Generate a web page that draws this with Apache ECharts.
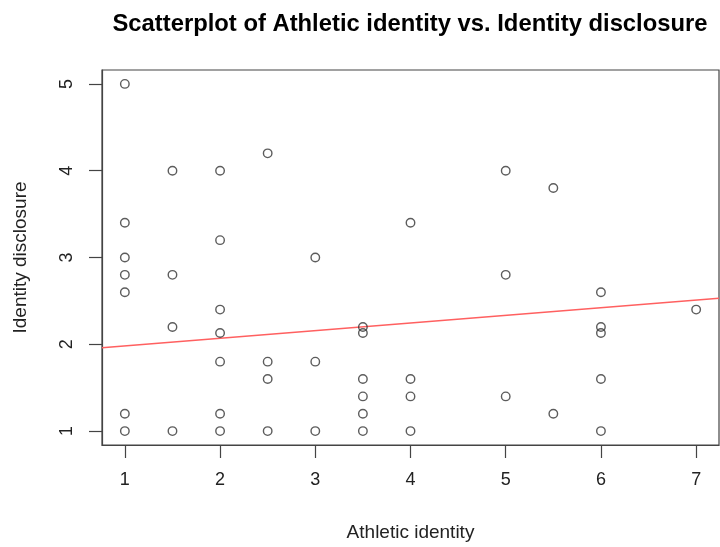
<!DOCTYPE html>
<html>
<head>
<meta charset="utf-8">
<script src="https://cdn.jsdelivr.net/npm/echarts@6/dist/echarts.min.js"></script>
<style>
  html, body { margin: 0; padding: 0; background: #fff; }
  #chart { width: 720px; height: 547px; }
</style>
</head>
<body>
<div id="chart"></div>
<script>
// Athletic identity score of each respondent
const athleticIdentity = [
  1, 1, 1, 1, 1, 1, 1,
  1.5, 1.5, 1.5, 1.5,
  2, 2, 2, 2, 2, 2, 2,
  2.5, 2.5, 2.5, 2.5,
  3, 3, 3,
  3.5, 3.5, 3.5, 3.5, 3.5, 3.5,
  4, 4, 4, 4,
  5, 5, 5,
  5.5, 5.5,
  6, 6, 6, 6, 6,
  7
];
// Identity disclosure score, same order
const identityDisclosure = [
  5.0, 3.4, 3.0, 2.8, 2.6, 1.2, 1.0,
  4.0, 2.8, 2.2, 1.0,
  4.0, 3.2, 2.4, 2.13, 1.8, 1.2, 1.0,
  4.2, 1.8, 1.6, 1.0,
  3.0, 1.8, 1.0,
  2.2, 2.13, 1.6, 1.4, 1.2, 1.0,
  3.4, 1.6, 1.4, 1.0,
  4.0, 2.8, 1.4,
  3.8, 1.2,
  2.6, 2.2, 2.13, 1.6, 1.0,
  2.4
];
// Fitted line coefficients
const fitIntercept = 1.893;
const fitSlope = 0.088;

// Tick labels
const xTicks = [1, 2, 3, 4, 5, 6, 7];
const yTicks = [1, 2, 3, 4, 5];

// Axis ranges padded by 4% on each side
const pad = (lo, hi) => [lo - 0.04 * (hi - lo), hi + 0.04 * (hi - lo)];
const [xMin, xMax] = pad(Math.min(...athleticIdentity), Math.max(...athleticIdentity));
const [yMin, yMax] = pad(Math.min(...identityDisclosure), Math.max(...identityDisclosure));

const points = athleticIdentity.map((x, i) => [x, identityDisclosure[i]]);
const fitLine = [xMin, xMax].map(x => [x, fitIntercept + fitSlope * x]);

const FONT = '"Liberation Sans", Arial, sans-serif';
const INK = '#222';

const chart = echarts.init(document.getElementById('chart'), null, { renderer: 'canvas' });
chart.setOption({
  animation: false,
  backgroundColor: '#fff',
  title: {
    text: 'Scatterplot of Athletic identity vs. Identity disclosure',
    left: 405,
    textAlign: 'center',
    top: 7,
    textStyle: { fontFamily: FONT, fontWeight: 'bold', fontSize: 23.8, color: '#000' }
  },
  grid: {
    left: 102, right: 1, top: 70, bottom: 102,
    containLabel: false,
    outerBoundsMode: 'none',
    show: true, borderColor: '#444', borderWidth: 1.2, backgroundColor: 'transparent'
  },
  xAxis: {
    type: 'value',
    min: xMin, max: xMax,
    name: 'Athletic identity',
    nameLocation: 'middle',
    nameGap: 78,
    nameTextStyle: { fontFamily: FONT, fontSize: 19, color: INK },
    splitLine: { show: false },
    axisLine: { show: true, lineStyle: { color: '#444', width: 1.2 } },
    axisTick: { show: true, inside: false, length: 13, customValues: xTicks, lineStyle: { color: '#444', width: 1.2 } },
    axisLabel: { customValues: xTicks, margin: 26, fontFamily: FONT, fontSize: 18, color: INK }
  },
  yAxis: {
    type: 'value',
    min: yMin, max: yMax,
    name: 'Identity disclosure',
    nameLocation: 'middle',
    nameGap: 72,
    nameRotate: 90,
    nameTextStyle: { fontFamily: FONT, fontSize: 19, color: INK },
    splitLine: { show: false },
    axisLine: { show: true, lineStyle: { color: '#444', width: 1.2 } },
    axisTick: { show: true, inside: false, length: 13, customValues: yTicks, lineStyle: { color: '#444', width: 1.2 } },
    axisLabel: { customValues: yTicks, rotate: 90, margin: 26, fontFamily: FONT, fontSize: 18, color: INK }
  },
  series: [
    {
      type: 'scatter',
      data: points,
      symbol: 'circle',
      symbolSize: 8.5,
      itemStyle: { color: 'rgba(0,0,0,0)', borderColor: '#333', borderWidth: 1.4 },
      z: 3
    },
    {
      type: 'line',
      data: fitLine,
      symbol: 'none',
      lineStyle: { color: '#ff6060', width: 1.6 },
      z: 2
    }
  ]
});
</script>
</body>
</html>
